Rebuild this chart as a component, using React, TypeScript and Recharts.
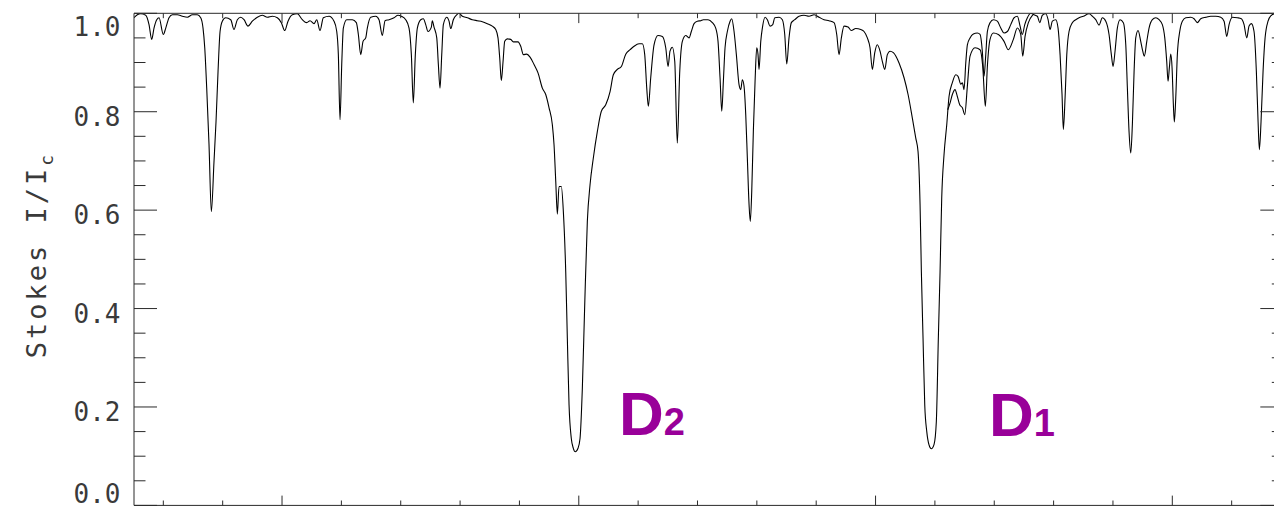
import { LineChart, Line, XAxis, YAxis } from "recharts";

// wavelength (Angstrom) and normalised intensity
const WAVE = [
  5882.506, 5882.562, 5882.619, 5882.704, 5882.759, 5882.805, 5882.843, 5882.889, 5882.928, 5883.0,
  5883.041, 5883.096, 5883.152, 5883.236, 5883.32, 5883.405, 5883.489, 5883.573, 5883.63, 5883.669,
  5883.698, 5883.731, 5883.77, 5883.809, 5883.854, 5883.888, 5883.922, 5883.956, 5883.994, 5884.051,
  5884.136, 5884.191, 5884.247, 5884.304, 5884.36, 5884.427, 5884.5, 5884.584, 5884.668, 5884.752,
  5884.837, 5884.921, 5884.988, 5885.046, 5885.101, 5885.174, 5885.258, 5885.342, 5885.416, 5885.472,
  5885.539, 5885.585, 5885.64, 5885.696, 5885.792, 5885.876, 5885.922, 5885.949, 5885.977, 5886.006,
  5886.033, 5886.09, 5886.185, 5886.252, 5886.286, 5886.326, 5886.365, 5886.41, 5886.437, 5886.495,
  5886.579, 5886.634, 5886.69, 5886.736, 5886.803, 5886.887, 5886.955, 5887.01, 5887.084, 5887.14,
  5887.179, 5887.212, 5887.246, 5887.28, 5887.337, 5887.381, 5887.421, 5887.46, 5887.516, 5887.532,
  5887.561, 5887.607, 5887.634, 5887.662, 5887.691, 5887.718, 5887.775, 5887.814, 5887.843, 5887.886,
  5887.944, 5887.982, 5888.038, 5888.122, 5888.206, 5888.291, 5888.375, 5888.459, 5888.543, 5888.601,
  5888.639, 5888.668, 5888.695, 5888.724, 5888.752, 5888.796, 5888.853, 5888.897, 5888.976, 5889.022,
  5889.066, 5889.123, 5889.179, 5889.246, 5889.313, 5889.386, 5889.443, 5889.499, 5889.554, 5889.583,
  5889.612, 5889.639, 5889.667, 5889.706, 5889.74, 5889.78, 5889.807, 5889.836, 5889.874, 5889.908,
  5889.942, 5889.987, 5890.021, 5890.06, 5890.1, 5890.144, 5890.19, 5890.245, 5890.313, 5890.38,
  5890.454, 5890.527, 5890.582, 5890.65, 5890.717, 5890.791, 5890.864, 5890.931, 5891.015, 5891.071,
  5891.111, 5891.145, 5891.172, 5891.212, 5891.268, 5891.335, 5891.408, 5891.465, 5891.504, 5891.537,
  5891.576, 5891.617, 5891.66, 5891.701, 5891.745, 5891.802, 5891.858, 5891.896, 5891.942, 5891.997,
  5892.055, 5892.099, 5892.178, 5892.25, 5892.307, 5892.346, 5892.38, 5892.409, 5892.436, 5892.464,
  5892.503, 5892.549, 5892.577, 5892.616, 5892.655, 5892.7, 5892.729, 5892.756, 5892.784, 5892.813,
  5892.84, 5892.869, 5892.89, 5892.914, 5892.941, 5892.97, 5892.998, 5893.02, 5893.037, 5893.066,
  5893.093, 5893.138, 5893.177, 5893.222, 5893.268, 5893.302, 5893.374, 5893.43, 5893.47, 5893.504,
  5893.542, 5893.581, 5893.639, 5893.711, 5893.795, 5893.879, 5893.964, 5894.048, 5894.132, 5894.216,
  5894.301, 5894.346, 5894.385, 5894.424, 5894.469, 5894.537, 5894.592, 5894.666, 5894.751, 5894.806,
  5894.862, 5894.907, 5894.946, 5894.987, 5895.03, 5895.076, 5895.115, 5895.155, 5895.199, 5895.244,
  5895.3, 5895.396, 5895.48, 5895.548, 5895.62, 5895.677, 5895.716, 5895.75, 5895.772, 5895.8,
  5895.829, 5895.863, 5895.901, 5895.94, 5895.986, 5896.024, 5896.058, 5896.087, 5896.115, 5896.154,
  5896.2, 5896.238, 5896.294, 5896.351, 5896.39, 5896.436, 5896.463, 5896.491, 5896.52, 5896.547,
  5896.592, 5896.648, 5896.715, 5896.761, 5896.799, 5896.828, 5896.857, 5896.884, 5896.929, 5896.985,
  5897.052, 5897.11, 5897.165, 5897.221, 5897.278, 5897.334, 5897.389, 5897.435, 5897.473, 5897.514,
  5897.558, 5897.615, 5897.671, 5897.726, 5897.767, 5897.81, 5897.868, 5897.907, 5897.94, 5897.979,
  5898.036, 5898.075, 5898.109, 5898.142, 5898.164, 5898.193, 5898.222, 5898.26, 5898.316, 5898.373,
  5898.429, 5898.501, 5898.597, 5898.653, 5898.71, 5898.766, 5898.821, 5898.879, 5898.934, 5898.973,
  5899.002, 5899.035, 5899.074, 5899.12, 5899.175, 5899.216, 5899.243, 5899.271, 5899.3, 5899.327,
  5899.356, 5899.384, 5899.423, 5899.468, 5899.502, 5899.529, 5899.57, 5899.608, 5899.664, 5899.721,
  5899.777, 5899.832, 5899.873, 5899.906, 5899.928, 5899.95, 5899.974, 5899.996, 5900.018, 5900.034,
  5900.058, 5900.085, 5900.125, 5900.169, 5900.227, 5900.311, 5900.366, 5900.422, 5900.479, 5900.564,
  5900.648, 5900.732, 5900.816, 5900.872, 5900.917, 5900.956, 5901.012, 5901.096, 5901.163, 5901.209,
  5901.254, 5901.293, 5901.332, 5901.377, 5901.416, 5901.445, 5901.467, 5901.495, 5901.529, 5901.563,
  5901.613, 5901.669, 5901.714,
];

const FLUX = [
  0.991, 0.997, 0.999, 0.996, 0.977, 0.947, 0.97, 0.987, 0.991, 0.957,
  0.97, 0.991, 0.997, 0.997, 0.994, 0.992, 0.997, 0.997, 0.991, 0.97,
  0.93, 0.848, 0.733, 0.597, 0.699, 0.78, 0.882, 0.963, 0.984, 0.991,
  0.987, 0.967, 0.987, 0.992, 0.987, 0.974, 0.984, 0.992, 0.996, 0.992,
  0.994, 0.991, 0.981, 0.965, 0.984, 0.997, 0.999, 0.987, 0.981, 0.985,
  0.979, 0.987, 0.965, 0.991, 0.994, 0.984, 0.963, 0.916, 0.784, 0.896,
  0.97, 0.987, 0.987, 0.981, 0.957, 0.916, 0.943, 0.95, 0.97, 0.992,
  0.994, 0.987, 0.955, 0.985, 0.987, 0.991, 0.996, 0.994, 0.987, 0.97,
  0.916, 0.818, 0.916, 0.97, 0.987, 0.989, 0.977, 0.963, 0.972, 0.985,
  0.972, 0.95, 0.896, 0.848, 0.916, 0.977, 0.992, 0.984, 0.969, 0.987,
  0.997, 1.0, 0.994, 0.991, 0.987, 0.985, 0.983, 0.979, 0.974, 0.967,
  0.95, 0.909, 0.863, 0.902, 0.943, 0.948, 0.947, 0.942, 0.942, 0.933,
  0.916, 0.917, 0.911, 0.896, 0.879, 0.848, 0.835, 0.808, 0.774, 0.733,
  0.658, 0.592, 0.648, 0.648, 0.597, 0.475, 0.34, 0.204, 0.136, 0.116,
  0.109, 0.116, 0.136, 0.238, 0.408, 0.577, 0.652, 0.706, 0.76, 0.801,
  0.814, 0.841, 0.875, 0.886, 0.892, 0.917, 0.926, 0.933, 0.938, 0.938,
  0.916, 0.848, 0.811, 0.869, 0.936, 0.955, 0.953, 0.93, 0.892, 0.923,
  0.931, 0.902, 0.736, 0.882, 0.943, 0.955, 0.95, 0.963, 0.979, 0.984,
  0.985, 0.987, 0.987, 0.981, 0.97, 0.943, 0.869, 0.801, 0.862, 0.93,
  0.963, 0.984, 0.989, 0.963, 0.916, 0.855, 0.845, 0.865, 0.852, 0.794,
  0.706, 0.611, 0.577, 0.638, 0.76, 0.862, 0.93, 0.916, 0.886, 0.943,
  0.97, 0.992, 0.987, 0.974, 0.977, 0.991, 0.992, 0.987, 0.957, 0.897,
  0.95, 0.981, 0.987, 0.994, 0.996, 0.994, 0.997, 0.992, 0.987, 0.985,
  0.981, 0.957, 0.916, 0.95, 0.974, 0.972, 0.965, 0.969, 0.967, 0.963,
  0.95, 0.93, 0.886, 0.92, 0.936, 0.923, 0.902, 0.886, 0.916, 0.923,
  0.92, 0.899, 0.869, 0.835, 0.787, 0.747, 0.719, 0.611, 0.475, 0.34,
  0.204, 0.15, 0.123, 0.115, 0.124, 0.17, 0.34, 0.475, 0.625, 0.713,
  0.774, 0.831, 0.859, 0.875, 0.872, 0.856, 0.859, 0.845, 0.899, 0.936,
  0.95, 0.958, 0.96, 0.957, 0.923, 0.872, 0.916, 0.963, 0.981, 0.987,
  0.984, 0.97, 0.96, 0.963, 0.977, 0.991, 0.994, 0.974, 0.957, 0.977,
  0.991, 1.0, 0.997, 0.994, 0.981, 0.996, 0.999, 0.987, 0.967, 0.984,
  0.987, 0.97, 0.916, 0.835, 0.764, 0.828, 0.916, 0.963, 0.981, 0.987,
  0.991, 0.994, 0.999, 0.994, 0.987, 0.976, 0.991, 0.984, 0.957, 0.916,
  0.892, 0.923, 0.97, 0.987, 0.981, 0.936, 0.848, 0.76, 0.716, 0.774,
  0.882, 0.95, 0.965, 0.943, 0.923, 0.913, 0.943, 0.97, 0.987, 0.991,
  0.987, 0.977, 0.95, 0.902, 0.862, 0.889, 0.917, 0.889, 0.814, 0.779,
  0.828, 0.916, 0.963, 0.984, 0.991, 0.992, 0.989, 0.981, 0.989, 0.992,
  0.994, 0.994, 0.992, 0.984, 0.953, 0.977, 0.992, 0.991, 0.989, 0.977,
  0.95, 0.974, 0.979, 0.963, 0.882, 0.78, 0.723, 0.78, 0.882, 0.95,
  0.984, 0.996, 0.999,
];

// second, shorter profile that splits off red of D1
const WAVE_B = [
  5896.216, 5896.256, 5896.294, 5896.339, 5896.378, 5896.418, 5896.463, 5896.503, 5896.547, 5896.592,
  5896.676, 5896.761, 5896.806, 5896.85, 5896.884, 5896.929, 5896.985, 5897.069, 5897.165, 5897.237,
  5897.322, 5897.389, 5897.446, 5897.48, 5897.519, 5897.575, 5897.649,
];
const FLUX_B = [
  0.804, 0.818, 0.835, 0.845, 0.831, 0.814, 0.808, 0.794, 0.852, 0.913,
  0.93, 0.926, 0.892, 0.811, 0.892, 0.947, 0.96, 0.957, 0.943, 0.926,
  0.947, 0.97, 0.957, 0.913, 0.953, 0.981, 0.997,
];

const X_DOMAIN = [5882.506, 5901.87];
const X_TICKS = [
  5883, 5884, 5885, 5886, 5887, 5888, 5889, 5890, 5891, 5892,
  5893, 5894, 5895, 5896, 5897, 5898, 5899, 5900, 5901,
];
const X_MAJOR = [5885, 5890, 5895, 5900];
const Y_TICKS = [
  0, 0.05, 0.1, 0.15, 0.2, 0.25, 0.3, 0.35, 0.4, 0.45, 0.5,
  0.55, 0.6, 0.65, 0.7, 0.75, 0.8, 0.85, 0.9, 0.95, 1.0,
];

const mainData = WAVE.map((w, i) => ({ w, v: FLUX[i] }));
const secondData = WAVE_B.map((w, i) => ({ w, v: FLUX_B[i] }));

const INK = "#2a2a2a";
const MONO = "'DejaVu Sans Mono', monospace";
const isMajorY = (v: number) => Math.abs(v * 5 - Math.round(v * 5)) < 1e-6;

function XTick({ x, y, payload, top }: any) {
  const len = X_MAJOR.includes(payload.value) ? 9.8 : 4.9;
  const y2 = top ? y + len : y - len;
  return <line x1={x} x2={x} y1={y} y2={y2} stroke={INK} strokeWidth={1} />;
}

function YTick({ x, y, payload, right }: any) {
  const v = payload.value;
  const major = isMajorY(v);
  const len = major ? 23 : 11.5;
  const x2 = right ? x - len : x + len;
  let dy = 14;
  if (v >= 0.999) dy = 22.7;
  if (v <= 0.001) dy = -2;
  return (
    <g>
      <line x1={x} x2={x2} y1={y} y2={y} stroke={INK} strokeWidth={1} />
      {major && !right && (
        <text
          x={x - 13.5}
          y={y + dy}
          textAnchor="end"
          fontFamily={MONO}
          fontSize={26}
          fill="#3a3a3a"
        >
          {v.toFixed(1)}
        </text>
      )}
    </g>
  );
}

export default function App() {
  return (
    <div
      style={{
        position: "absolute",
        left: 0,
        top: 0,
        width: 1274,
        height: 509,
        overflow: "hidden",
        background: "#fff",
      }}
    >
      <LineChart
        width={1290}
        height={509}
        margin={{ top: 12.3, right: 5.7, bottom: 2.6, left: 133 }}
      >
        <XAxis
          xAxisId="b"
          dataKey="w"
          type="number"
          domain={X_DOMAIN}
          allowDataOverflow
          ticks={X_TICKS}
          interval={0}
          height={1}
          tickSize={0}
          tickMargin={0}
          tickLine={false}
          axisLine={{ stroke: INK, strokeWidth: 1 }}
          tick={(p: any) => <XTick {...p} />}
        />
        <XAxis
          xAxisId="t"
          orientation="top"
          dataKey="w"
          type="number"
          domain={X_DOMAIN}
          allowDataOverflow
          ticks={X_TICKS}
          interval={0}
          height={1}
          tickSize={0}
          tickMargin={0}
          tickLine={false}
          axisLine={{ stroke: INK, strokeWidth: 1 }}
          tick={(p: any) => <XTick {...p} top />}
        />
        <YAxis
          yAxisId="l"
          type="number"
          domain={[0, 1]}
          allowDataOverflow
          ticks={Y_TICKS}
          interval={0}
          width={1}
          tickSize={0}
          tickMargin={0}
          tickLine={false}
          axisLine={{ stroke: INK, strokeWidth: 1 }}
          tick={(p: any) => <YTick {...p} />}
        />
        <YAxis
          yAxisId="r"
          orientation="right"
          type="number"
          domain={[0, 1]}
          allowDataOverflow
          ticks={Y_TICKS}
          interval={0}
          width={1}
          tickSize={0}
          tickMargin={0}
          tickLine={false}
          axisLine={{ stroke: INK, strokeWidth: 1 }}
          tick={(p: any) => <YTick {...p} right />}
        />
        <Line
          xAxisId="b"
          yAxisId="l"
          data={mainData}
          dataKey="v"
          type="monotone"
          stroke="#000"
          strokeWidth={1.1}
          dot={false}
          activeDot={false}
          isAnimationActive={false}
        />
        <Line
          xAxisId="b"
          yAxisId="l"
          data={secondData}
          dataKey="v"
          type="monotone"
          stroke="#000"
          strokeWidth={1.1}
          dot={false}
          activeDot={false}
          isAnimationActive={false}
        />
      </LineChart>
      <svg
        width={1274}
        height={509}
        style={{ position: "absolute", left: 0, top: 0, pointerEvents: "none" }}
      >
        <text
          transform="translate(46, 255) rotate(-90)"
          textAnchor="middle"
          fontFamily={MONO}
          fontSize={27}
          letterSpacing={3}
          fill="#3a3a3a"
        >
          Stokes I/I
          <tspan fontSize={18} dy={7}>c</tspan>
        </text>
        <g fontFamily="'Liberation Sans', Arial, sans-serif" fontWeight="bold" fill="#990099">
          <text x={619} y={435} fontSize={62}>
            D<tspan fontSize={38} dx={0}>2</tspan>
          </text>
          <text x={989} y={436} fontSize={62}>
            D<tspan fontSize={38} dx={0}>1</tspan>
          </text>
        </g>
      </svg>
    </div>
  );
}
